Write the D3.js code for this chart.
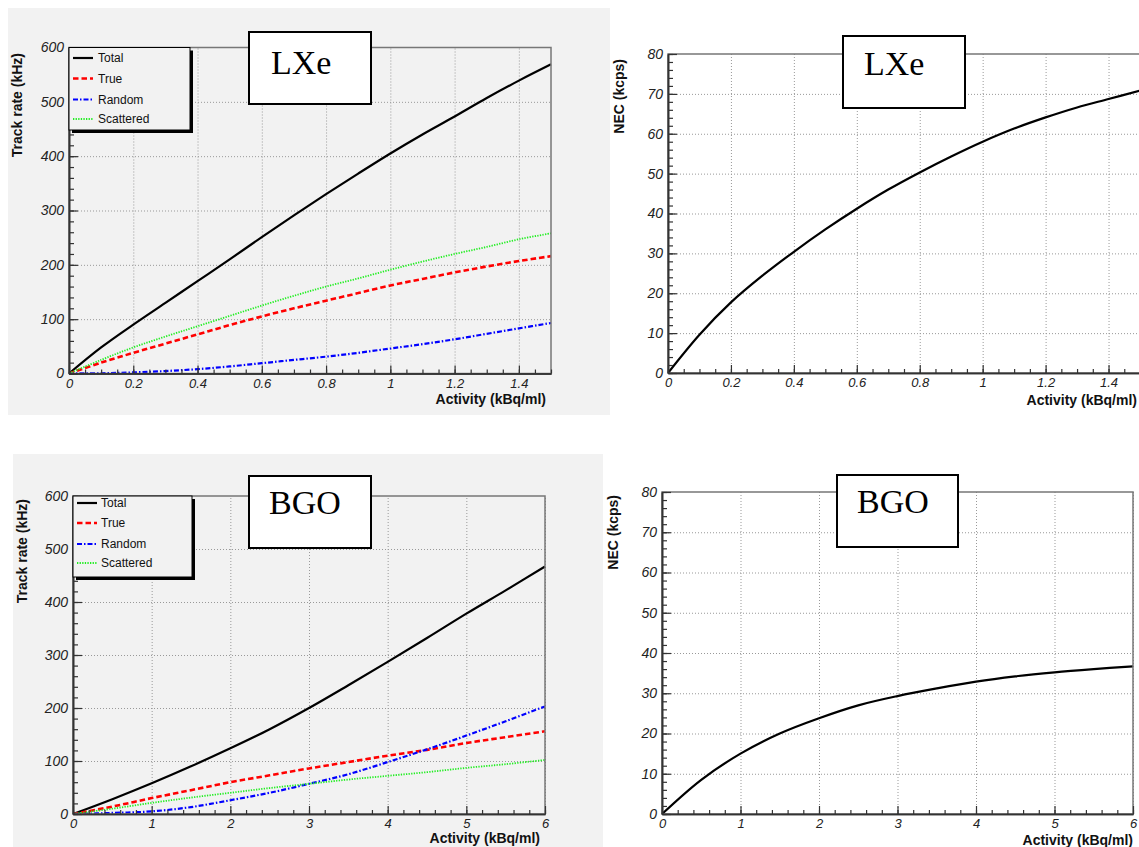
<!DOCTYPE html>
<html>
<head>
<meta charset="utf-8">
<script src="https://cdn.jsdelivr.net/npm/d3@7"></script>
<style>
  body { margin: 0; background: #fff; }
  svg { display: block; }
</style>
</head>
<body>
<div id="chart"></div>
<script>
// values
var seriesNames = ["Total", "True", "Random", "Scattered"];

var lxeActivity  = [0, 0.1, 0.2, 0.3, 0.4, 0.5, 0.6, 0.7, 0.8, 0.9, 1.0, 1.1, 1.2, 1.3, 1.4, 1.5];
var lxeTotal     = [0, 48, 90, 130, 170, 210, 251, 291, 330, 368, 405, 440, 473, 507, 539, 569];
var lxeTrue      = [0, 20, 38, 55, 72, 89, 105, 120, 134, 148, 162, 174, 186, 197, 207, 216];
var lxeRandom    = [0, 0.5, 2, 4.5, 8, 13, 19, 25, 31, 38, 46, 54, 63, 73, 83, 93];
var lxeScattered = [0, 25, 48, 68, 87, 106, 125, 143, 160, 175, 191, 206, 220, 233, 247, 258];
var lxeNec       = [0, 9.6, 17.7, 24.4, 30.4, 36, 41.2, 46, 50.3, 54.3, 58, 61.3, 64.1, 66.6, 68.7, 70.8];

var bgoActivity  = [0, 0.5, 1, 1.5, 2, 2.5, 3, 3.5, 4, 4.5, 5, 5.5, 6];
var bgoTotal     = [0, 28, 58, 90, 124, 160, 200, 243, 287, 332, 378, 422, 467];
var bgoTrue      = [0, 14, 30, 45, 60, 73, 86, 98, 110, 121, 134, 145, 156];
var bgoRandom    = [0, 2, 5, 13, 26, 40, 57, 75, 98, 122, 148, 175, 203];
var bgoScattered = [0, 10, 21, 31, 40, 49, 57, 65, 72, 79, 87, 94, 102];
var bgoNec       = [0, 8.5, 15, 20, 23.8, 27, 29.3, 31.2, 32.9, 34.2, 35.2, 36, 36.7];

// tick labels
var lxeXTicks  = [0, 0.2, 0.4, 0.6, 0.8, 1, 1.2, 1.4];
var bgoXTicks  = [0, 1, 2, 3, 4, 5, 6];
var rateYTicks = [0, 100, 200, 300, 400, 500, 600];
var necYTicks  = [0, 10, 20, 30, 40, 50, 60, 70, 80];

var styles = {
  Total:     { color: "#000000", width: 2.2, dash: null },
  True:      { color: "#ff0000", width: 2.6, dash: "5.5,3" },
  Random:    { color: "#0000ff", width: 2.2, dash: "5,2,1.5,2" },
  Scattered: { color: "#22ee22", width: 1.8, dash: "1.3,1.3" }
};

var SANS = "'Liberation Sans', Arial, sans-serif";
var SERIF = "'Liberation Serif', 'Times New Roman', serif";

var W = 1139, H = 847;
var svg = d3.select("#chart").append("svg").attr("width", W).attr("height", H);

var fmt = d3.format("~g");

var panels = [
  {
    bg: [8, 8, 602, 407], plotFill: "#f2f2f2",
    left: 69, right: 551, top: 47.5, bottom: 373.5,
    xDomain: [0, 1.5], yDomain: [0, 600],
    xTicks: lxeXTicks, xMinor: 0.05, yTicks: rateYTicks, yMinor: 20,
    xs: lxeActivity,
    series: [["Total", lxeTotal], ["True", lxeTrue], ["Random", lxeRandom], ["Scattered", lxeScattered]],
    legend: { x: 69, y: 47.5, w: 121, h: 82.5, rows: [10.5, 31, 52, 71.5], sx0: 4, sx1: 24, tx: 29 },
    yTitle: "Track rate (kHz)", yTitleX: 17, yTitleY: 53,
    xTitle: "Activity (kBq/ml)", xTitleX: 546, xTitleY: 404,
    label: "LXe", box: [249, 32, 122, 72], labelX: 271, labelY: 74
  },
  {
    bg: null, plotFill: "#ffffff",
    left: 668, right: 1140, top: 54, bottom: 373,
    xDomain: [0, 1.5], yDomain: [0, 80],
    xTicks: lxeXTicks, xMinor: 0.05, yTicks: necYTicks, yMinor: 2,
    xs: lxeActivity,
    series: [["Total", lxeNec]],
    legend: null,
    yTitle: "NEC (kcps)", yTitleX: 619, yTitleY: 59,
    xTitle: "Activity (kBq/ml)", xTitleX: 1137, xTitleY: 405,
    label: "LXe", box: [843, 36, 122, 72], labelX: 864, labelY: 75
  },
  {
    bg: [13, 454, 590, 393], plotFill: "#f2f2f2",
    left: 73, right: 545, top: 496, bottom: 814,
    xDomain: [0, 6], yDomain: [0, 600],
    xTicks: bgoXTicks, xMinor: 0.2, yTicks: rateYTicks, yMinor: 20,
    xs: bgoActivity,
    series: [["Total", bgoTotal], ["True", bgoTrue], ["Random", bgoRandom], ["Scattered", bgoScattered]],
    legend: { x: 73, y: 496, w: 119, h: 81, rows: [7, 27, 48, 67], sx0: 4, sx1: 24, tx: 28 },
    yTitle: "Track rate (kHz)", yTitleX: 22, yTitleY: 499,
    xTitle: "Activity (kBq/ml)", xTitleX: 540, xTitleY: 843,
    label: "BGO", box: [249, 476, 122, 72], labelX: 269, labelY: 514
  },
  {
    bg: null, plotFill: "#ffffff",
    left: 662, right: 1133, top: 492, bottom: 814,
    xDomain: [0, 6], yDomain: [0, 80],
    xTicks: bgoXTicks, xMinor: 0.2, yTicks: necYTicks, yMinor: 2,
    xs: bgoActivity,
    series: [["Total", bgoNec]],
    legend: null,
    yTitle: "NEC (kcps)", yTitleX: 613, yTitleY: 495,
    xTitle: "Activity (kBq/ml)", xTitleX: 1133, xTitleY: 845,
    label: "BGO", box: [837, 475, 121, 72], labelX: 857, labelY: 513
  }
];

// gray canvas behind the left plots (it runs a little past the middle)
panels.forEach(function(p) {
  if (!p.bg) return;
  svg.append("rect")
    .attr("x", p.bg[0]).attr("y", p.bg[1])
    .attr("width", p.bg[2]).attr("height", p.bg[3])
    .attr("fill", "#f2f2f2");
});

var drawPanel = function(p) {
  var g = svg.append("g");
  var h = p.bottom - p.top, w = p.right - p.left;

  var x = d3.scaleLinear().domain(p.xDomain).range([p.left, p.right]);
  var y = d3.scaleLinear().domain(p.yDomain).range([p.bottom, p.top]);

  g.append("rect")
    .attr("x", p.left).attr("y", p.top).attr("width", w).attr("height", h)
    .attr("fill", p.plotFill);

  // dotted grid at the major ticks
  var gx = g.append("g").attr("transform", "translate(0," + p.bottom + ")")
    .call(d3.axisBottom(x).tickValues(p.xTicks.slice(1)).tickSize(-h).tickFormat(""));
  var gy = g.append("g").attr("transform", "translate(" + p.left + ",0)")
    .call(d3.axisLeft(y).tickValues(p.yTicks.slice(1, -1)).tickSize(-w).tickFormat(""));
  [gx, gy].forEach(function(a) {
    a.select(".domain").remove();
    a.selectAll("line").attr("stroke", "#999").attr("stroke-width", 1).attr("stroke-dasharray", "1,2");
  });

  // curves
  p.series.forEach(function(s) {
    var st = styles[s[0]];
    var line = d3.line()
      .x(function(d, i) { return x(p.xs[i]); })
      .y(function(d) { return y(d); })
      .curve(d3.curveCatmullRom.alpha(0.5));
    g.append("path")
      .datum(s[1])
      .attr("d", line)
      .attr("fill", "none")
      .attr("stroke", st.color)
      .attr("stroke-width", st.width)
      .attr("stroke-dasharray", st.dash);
  });

  // frame
  g.append("rect")
    .attr("x", p.left).attr("y", p.top).attr("width", w).attr("height", h)
    .attr("fill", "none").attr("stroke", "#777").attr("stroke-width", 1.5);

  // axes: minor ticks then major ticks with labels
  var xMinorVals = d3.range(p.xDomain[0], p.xDomain[1] + 1e-9, p.xMinor);
  var yMinorVals = d3.range(p.yDomain[0], p.yDomain[1] + 1e-9, p.yMinor);

  var ax = g.append("g").attr("transform", "translate(0," + p.bottom + ")");
  ax.append("g").call(d3.axisBottom(x).tickValues(xMinorVals).tickSizeInner(-4).tickSizeOuter(0).tickFormat(""));
  ax.append("g").call(d3.axisBottom(x).tickValues(p.xTicks).tickSizeInner(-8).tickSizeOuter(0).tickPadding(5).tickFormat(fmt));

  var ay = g.append("g").attr("transform", "translate(" + p.left + ",0)");
  ay.append("g").call(d3.axisLeft(y).tickValues(yMinorVals).tickSizeInner(-5).tickSizeOuter(0).tickFormat(""));
  ay.append("g").call(d3.axisLeft(y).tickValues(p.yTicks).tickSizeInner(-9).tickSizeOuter(0).tickPadding(5).tickFormat(fmt));

  [ax, ay].forEach(function(a) {
    a.selectAll(".domain").attr("stroke", "#333").attr("stroke-width", 1.6);
    a.selectAll(".tick line").attr("stroke", "#333").attr("stroke-width", 1.2);
    a.selectAll("text")
      .style("font-family", SANS)
      .style("font-style", "italic")
      .style("font-size", "14px")
      .attr("fill", "#222");
  });
  ax.selectAll("text").style("font-size", "13px");

  // legend
  if (p.legend) {
    var L = p.legend;
    g.append("rect").attr("x", L.x + 3).attr("y", L.y + 3).attr("width", L.w).attr("height", L.h).attr("fill", "#000");
    g.append("rect").attr("x", L.x).attr("y", L.y).attr("width", L.w).attr("height", L.h)
      .attr("fill", "#f2f2f2").attr("stroke", "#000").attr("stroke-width", 1);
    seriesNames.forEach(function(name, i) {
      var st = styles[name];
      var ry = L.y + L.rows[i];
      g.append("line")
        .attr("x1", L.x + L.sx0).attr("x2", L.x + L.sx1).attr("y1", ry).attr("y2", ry)
        .attr("stroke", st.color).attr("stroke-width", st.width).attr("stroke-dasharray", st.dash);
      g.append("text")
        .attr("x", L.x + L.tx).attr("y", ry).attr("dy", "0.35em")
        .style("font-family", SANS).style("font-size", "12px")
        .attr("fill", "#111")
        .text(name);
    });
  }

  // material label box
  g.append("rect")
    .attr("x", p.box[0]).attr("y", p.box[1]).attr("width", p.box[2]).attr("height", p.box[3])
    .attr("fill", "#fff").attr("stroke", "#000").attr("stroke-width", 2);
  g.append("text")
    .attr("x", p.labelX).attr("y", p.labelY)
    .style("font-family", SERIF).style("font-size", "34px")
    .attr("fill", "#000")
    .text(p.label);

  // axis titles
  g.append("text")
    .attr("transform", "translate(" + p.yTitleX + "," + p.yTitleY + ") rotate(-90)")
    .attr("text-anchor", "end").attr("dy", "0.35em")
    .style("font-family", SANS).style("font-weight", "bold").style("font-size", "14px")
    .attr("fill", "#111")
    .text(p.yTitle);
  g.append("text")
    .attr("x", p.xTitleX).attr("y", p.xTitleY)
    .attr("text-anchor", "end")
    .style("font-family", SANS).style("font-weight", "bold").style("font-size", "14px")
    .attr("fill", "#111")
    .text(p.xTitle);
};

panels.forEach(drawPanel);
</script>
</body>
</html>
